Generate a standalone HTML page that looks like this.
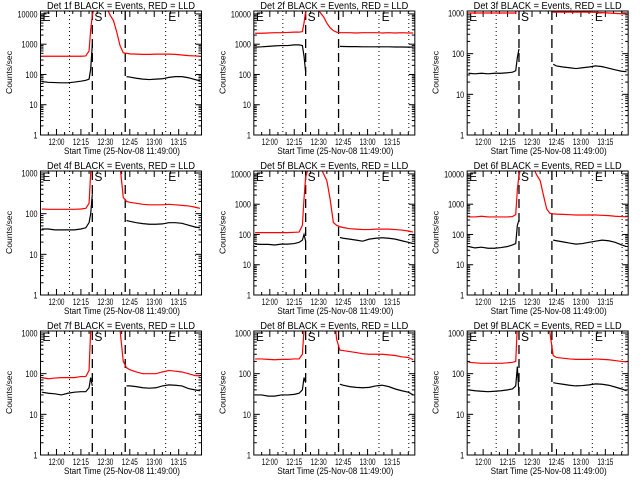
<!DOCTYPE html>
<html><head><meta charset="utf-8"><style>
html,body{margin:0;padding:0;background:#fff;}
svg{display:block;font-family:"Liberation Sans",sans-serif;}
</style></head><body>
<svg id="chart" width="640" height="480" viewBox="0 0 640 480"></svg>
<script>
// shared time axis: minutes after 11:49:00
const times = [2,6,10,14,18,22,26,29,31,32,33,34,36,38,40,42,44,46,48,50,52,54,56,60,64,68,72,76,80,84,88,92,96,99];
const detNames = ["1f","2f","3f","4f","5f","6f","7f","8f","9f"];
const yMaxes = [12500,12500,1120,1120,12500,12500,1120,1120,1120];
const yTickValues = [1,10,100,1000,10000];
const xTickMinutes = [11,26,41,56,71,86];
const xTickLabels = ["12:00","12:15","12:30","12:45","13:00","13:15"];
const dottedLines = [19,78,96.3];
const dashedLines = [33,53.2];
const N = null;
const red1 = [400,400,400,400,400,400,400,410,600,3000,9000,15000,20000,20000,20000,15000,9000,6000,2500,900,520,500,480,470,460,460,470,470,470,460,440,420,410,400];
const black1 = [58,55,54,53,53,56,60,64,70,150,1000,N,N,N,N,N,N,N,N,N,N,85,82,75,70,68,70,72,80,85,85,78,68,62];
const red2 = [2300,2300,2350,2400,2400,2450,2500,2500,2600,5000,12000,20000,20000,20000,15000,11000,8000,5000,3500,2800,2500,2400,2400,2400,2350,2400,2400,2400,2350,2400,2350,2400,2350,2350];
const black2 = [800,820,850,880,900,900,950,950,900,400,120,N,N,N,N,N,N,N,N,N,N,850,840,830,830,820,820,820,820,820,810,810,800,800];
const red3 = [1000,1000,1000,1000,1000,1000,1000,1000,1000,5000,5000,5000,5000,5000,5000,5000,5000,5000,5000,5000,5000,1050,1050,1050,1050,1050,1050,1050,1040,1020,1000,980,960,950];
const black3 = [33,32,33,32,33,33,34,35,38,80,130,N,N,N,N,N,N,N,N,N,N,55,50,47,45,43,45,47,50,48,44,40,37,36];
const red4 = [130,128,128,128,128,128,130,135,180,1000,5000,5000,5000,5000,5000,5000,5000,5000,5000,1500,250,200,190,180,170,165,165,165,170,165,160,155,145,135];
const black4 = [42,42,40,40,40,40,42,45,60,100,300,N,N,N,N,N,N,N,N,N,N,68,65,60,57,55,55,56,60,60,58,52,47,45];
const red5 = [115,115,115,115,115,115,118,120,200,1500,8000,12000,20000,20000,20000,18000,10000,6000,1500,250,200,180,170,155,150,145,145,150,150,150,145,140,130,120];
const black5 = [48,47,47,45,48,48,50,55,65,100,60,N,N,N,N,N,N,N,N,N,N,80,75,70,65,60,70,75,78,75,70,62,55,50];
const red6 = [380,380,400,380,380,380,380,390,450,3000,9000,15000,20000,20000,20000,15000,9000,6000,2000,700,500,480,470,460,450,440,440,440,440,430,420,400,390,380];
const black6 = [40,36,38,35,35,37,40,45,50,200,300,N,N,N,N,N,N,N,N,N,N,65,62,57,52,48,50,55,60,65,62,55,45,40];
const red7 = [80,75,78,80,80,80,85,85,120,1200,5000,5000,5000,5000,5000,5000,5000,5000,5000,1200,200,140,125,110,100,100,100,110,120,115,110,100,90,88];
const black7 = [35,33,32,30,33,35,36,36,45,80,50,N,N,N,N,N,N,N,N,N,N,50,50,48,45,44,45,50,53,52,50,43,40,38];
const red8 = [230,230,225,220,225,225,230,230,300,1200,5000,5000,5000,5000,5000,5000,5000,5000,5000,5000,700,380,370,350,330,310,300,300,300,290,280,260,250,220];
const black8 = [30,30,28,28,30,30,31,33,40,80,60,N,N,N,N,N,N,N,N,N,N,55,52,48,46,45,46,50,52,48,42,38,35,30];
const red9 = [190,185,180,180,180,180,185,190,200,1500,5000,5000,5000,5000,5000,5000,5000,5000,5000,5000,1000,280,250,240,230,225,225,225,230,225,220,210,200,195];
const black9 = [40,38,37,36,37,38,40,42,50,150,30,N,N,N,N,N,N,N,N,N,N,60,58,55,52,50,51,53,56,55,52,47,42,38];
const redSeries = [red1,red2,red3,red4,red5,red6,red7,red8,red9];
const blackSeries = [black1,black2,black3,black4,black5,black6,black7,black8,black9];

const NS = "http://www.w3.org/2000/svg";
const svg = document.getElementById("chart");
const L=40.5,R=201.5,T=11,B=135,XMIN=1.2,XMAX=100;
function mk(tag, attrs, parent){const e=document.createElementNS(NS,tag);for(const k in attrs)e.setAttribute(k,attrs[k]);parent.appendChild(e);return e;}
function xs(t){return L+(t-XMIN)/(XMAX-XMIN)*(R-L);}

for(let p=0;p<9;p++){
  const c=p%3,r=Math.floor(p/3);
  const ymax=yMaxes[p];
  const ys=v=>B-Math.log10(v)/Math.log10(ymax)*(B-T);
  const g=mk("g",{transform:`translate(${(c*213.33).toFixed(2)},${r*160})`},svg);
  
  
  const cp=mk("clipPath",{id:"clip"+p},g);
  mk("rect",{x:L,y:T,width:R-L,height:B-T},cp);
  const title=mk("text",{x:47,y:9,"font-size":"10",textLength:"148",lengthAdjust:"spacingAndGlyphs"},g);
  title.textContent=`Det ${detNames[p]} BLACK = Events, RED = LLD`;
  
  
  const yl=mk("text",{x:-94,y:12,"font-size":"8.5",textLength:"43",lengthAdjust:"spacingAndGlyphs",transform:"rotate(-90)"},g);
  yl.textContent="Counts/sec";
  
  
  const xl=mk("text",{x:64,y:154,"font-size":"9",textLength:"116",lengthAdjust:"spacingAndGlyphs"},g);
  xl.textContent="Start Time (25-Nov-08 11:49:00)";
  
  
  const tickG=mk("g",{stroke:"#000","stroke-width":"1"},g);
  
  
  for(const v of yTickValues){
    if(v>ymax)continue;
    const y=ys(v);
    mk("line",{x1:L,x2:L+6,y1:y,y2:y},tickG);
    mk("line",{x1:R-6,x2:R,y1:y,y2:y},tickG);
    const s=String(v);
    const tl=mk("text",{x:L-3-s.length*4,y:y+3.5,"font-size":"9",textLength:String(s.length*4),lengthAdjust:"spacingAndGlyphs",stroke:"none"},g);
    tl.textContent=s;
    
    
    for(let m=2;m<10;m++){const mv=v*m;if(mv>ymax)break;const my=ys(mv);
      mk("line",{x1:L,x2:L+3,y1:my,y2:my},tickG);mk("line",{x1:R-3,x2:R,y1:my,y2:my},tickG);}
  }
  for(let t=6;t<XMAX;t+=5){const x=xs(t);const maj=((t-11)%15===0);const len=maj?6:3;
    mk("line",{x1:x,x2:x,y1:B,y2:B-len},tickG);mk("line",{x1:x,x2:x,y1:T,y2:T+len},tickG);}
  xTickMinutes.forEach((t,i)=>{
    const tl=mk("text",{x:xs(t)-8,y:145,"font-size":"9",textLength:"16",lengthAdjust:"spacingAndGlyphs"},g);
    tl.textContent=xTickLabels[i];
    
    
  });
  for(const t of dottedLines){const l=mk("line",{x1:xs(t),x2:xs(t),y1:T,y2:B,stroke:"#000","stroke-dasharray":"1,3"},g);
    }
  for(const t of dashedLines){const l=mk("line",{x1:xs(t),x2:xs(t),y1:T,y2:B,stroke:"#000","stroke-width":"1.3","stroke-dasharray":"9,5"},g);
    }
  [["E",L+2],["S",xs(33)+2],["E",xs(79)+1]].forEach(([s,x])=>{
    const m=mk("text",{x:x,y:T+10,"font-size":"12"},g);m.textContent=s;
    });
  const plot=(arr,color,name)=>{
    let d="",pen=false;
    arr.forEach((v,i)=>{if(v===null){pen=false;return;}
      d+=(pen?"L":"M")+xs(times[i]).toFixed(2)+","+ys(v).toFixed(2);pen=true;});
    const pth=mk("path",{d:d,fill:"none",stroke:color,"stroke-width":"1.2","clip-path":`url(#clip${p})`},g);
    
    
  };
  plot(redSeries[p],"#ff0000","red-lld-series");
  plot(blackSeries[p],"#000000","black-events-series");
  const box=mk("rect",{x:L,y:T,width:R-L,height:B-T,fill:"none",stroke:"#000","stroke-width":"1"},g);
  
  
}
</script>
</body></html>
